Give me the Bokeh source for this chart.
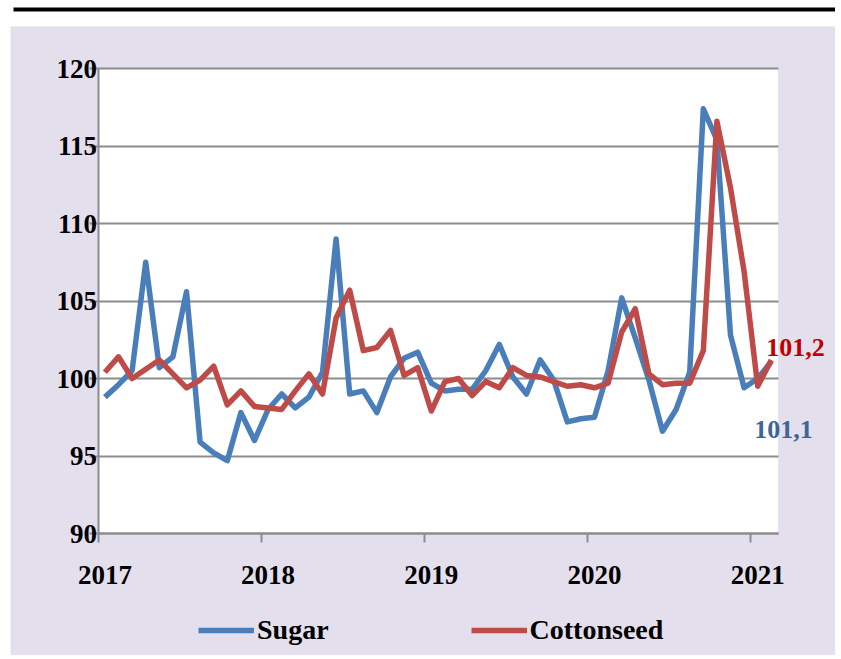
from bokeh.plotting import figure
from bokeh.models import (FixedTicker, Legend, LegendItem, Label, Range1d,
                          BoxAnnotation, LinearAxis)
from bokeh.embed import file_html
from bokeh.resources import INLINE

# ---- data ----
years = ["2017", "2018", "2019", "2020", "2021"]
sugar = [98.8, 99.6, 100.5, 107.5, 100.7, 101.4, 105.6, 95.9, 95.2, 94.7, 97.8, 96.0,
         98.0, 99.0, 98.1, 98.8, 100.4, 109.0, 99.0, 99.2, 97.8, 100.1, 101.3, 101.7,
         99.7, 99.2, 99.3, 99.3, 100.5, 102.2, 100.1, 99.0, 101.2, 99.9, 97.2, 97.4,
         97.5, 100.5, 105.2, 102.6, 99.9, 96.6, 98.0, 100.4, 117.4, 115.4, 102.8, 99.4,
         100.0, 101.1]
cottonseed = [100.4, 101.4, 100.0, 100.6, 101.2, 100.3, 99.4, 99.9, 100.8, 98.3, 99.2, 98.2,
              98.1, 98.0, 99.2, 100.3, 99.0, 103.9, 105.7, 101.8, 102.0, 103.1, 100.2, 100.7,
              97.9, 99.8, 100.0, 98.9, 99.8, 99.4, 100.7, 100.2, 100.1, 99.8, 99.5, 99.6,
              99.4, 99.7, 103.0, 104.5, 100.3, 99.6, 99.7, 99.7, 101.8, 116.6, 112.3, 106.9,
              99.5, 101.2]
sugar_label = "101,1"
cotton_label = "101,2"
y_ticks = [90, 95, 100, 105, 110, 115, 120]

months = list(range(len(sugar)))
xs = [m + 0.5 for m in months]
year_ticks = [12 * k for k in range(len(years))]
year_label_pos = [12 * k + 0.5 for k in range(len(years))]
x_lo, x_hi = 0, len(sugar)
y_lo, y_hi = y_ticks[0], y_ticks[-1]

BLUE = "#4a7ebb"
RED = "#be4b48"
LAV = "#e4dfec"
GRID = "#8c8c8c"
FONT = "Liberation Serif"

# canvas geometry (pixels); the frame covers the whole canvas
W, H = 835, 655
box_left, box_right = 97.6, 777.6
box_top, box_bottom = 68, 533
band_h = 26          # white band at the top (with the black rule)
panel_left = 10      # left edge of the lavender panel
rule_left, rule_top, rule_bottom = 13, 7, 11

px_x = (box_right - box_left) / (x_hi - x_lo)
px_y = (box_bottom - box_top) / (y_hi - y_lo)
x0 = x_lo - box_left / px_x
x1 = x_hi + (W - box_right) / px_x
y0 = y_lo - (H - box_bottom) / px_y
y1 = y_hi + box_top / px_y


def cx(px):
    return x0 + px / px_x


def cy(py):
    return y1 - py / px_y


p = figure(width=W, height=H, output_backend="svg", toolbar_location=None,
           x_range=Range1d(x0, x1), y_range=Range1d(y0, y1),
           min_border_left=0, min_border_right=0, min_border_top=0, min_border_bottom=0)
p.border_fill_color = "white"
p.background_fill_color = "white"
p.outline_line_color = None

# lavender panel, black rule, white plot box
p.add_layout(BoxAnnotation(left=cx(panel_left), right=x1, bottom=y0, top=cy(band_h),
                           fill_color=LAV, fill_alpha=1, line_color=None, level="image"))
p.add_layout(BoxAnnotation(left=cx(rule_left), right=x1, bottom=cy(rule_bottom), top=cy(rule_top),
                           fill_color="black", fill_alpha=1, line_color=None, level="image"))
p.add_layout(BoxAnnotation(left=x_lo, right=x_hi, bottom=y_lo, top=y_hi,
                           fill_color="white", fill_alpha=1, line_color=None, level="image"))

# horizontal grid limited to the plot box
p.xgrid.visible = False
try:
    p.ygrid.cross_bounds = (x_lo, x_hi)
    p.ygrid.grid_line_color = GRID
    p.ygrid.grid_line_width = 2
    p.ygrid.ticker = FixedTicker(ticks=y_ticks)
except AttributeError:
    p.ygrid.visible = False
    p.segment(x0=[x_lo] * len(y_ticks), x1=[x_hi] * len(y_ticks), y0=y_ticks, y1=y_ticks,
              line_color=GRID, line_width=2, level="underlay")

r1 = p.line(xs, sugar, line_color=BLUE, line_width=5.5, line_join="round")
r2 = p.line(xs, cottonseed, line_color=RED, line_width=5.5, line_join="round")

xaxis = p.below[0]
yaxis = p.left[0]
yaxis.ticker = FixedTicker(ticks=y_ticks)
xaxis.ticker = FixedTicker(ticks=year_ticks)
xaxis.major_label_text_alpha = 0
yaxis.fixed_location = x_lo
xaxis.fixed_location = y_lo
yaxis.bounds = (y_lo, y_hi)
xaxis.bounds = (x_lo, x_hi)

for ax in (xaxis, yaxis):
    ax.axis_line_color = GRID
    ax.axis_line_width = 2
    ax.major_tick_line_color = GRID
    ax.major_tick_line_width = 2
    ax.major_tick_in = 0
    ax.major_tick_out = 9
    ax.minor_tick_line_color = None
    ax.major_label_text_font = FONT
    ax.major_label_text_font_style = "bold"
    ax.major_label_text_font_size = "27px"
    ax.major_label_text_color = "black"
yaxis.major_label_standoff = -8

label_axis = LinearAxis(ticker=FixedTicker(ticks=year_label_pos),
                        major_label_overrides={t: y for t, y in zip(year_label_pos, years)},
                        fixed_location=y_lo, axis_line_color=None,
                        major_tick_line_color=None, minor_tick_line_color=None,
                        major_tick_in=0, major_tick_out=0, major_label_standoff=32,
                        major_label_text_font=FONT, major_label_text_font_style="bold",
                        major_label_text_font_size="27px", major_label_text_color="black")
p.add_layout(label_axis, "below")

legend = Legend(items=[LegendItem(label="Sugar", renderers=[r1]),
                       LegendItem(label="Cottonseed", renderers=[r2])],
                orientation="horizontal", location=(198, 9),
                glyph_width=56, glyph_height=20, label_standoff=3, spacing=142,
                padding=0, margin=0, border_line_color=None, background_fill_alpha=0,
                label_text_font=FONT, label_text_font_style="bold",
                label_text_font_size="28px", label_text_color="black")
p.add_layout(legend)

p.add_layout(Label(x=xs[-1], y=cottonseed[-1], text=cotton_label, x_offset=-5, y_offset=12,
                   text_baseline="middle", text_font=FONT, text_font_style="bold",
                   text_font_size="26px", text_color="#c00000"))
p.add_layout(Label(x=xs[-1], y=sugar[-1], text=sugar_label, x_offset=-17, y_offset=-68,
                   text_baseline="middle", text_font=FONT, text_font_style="bold",
                   text_font_size="26px", text_color="#3b6699"))

open("out.html", "w").write(file_html(p, INLINE))
